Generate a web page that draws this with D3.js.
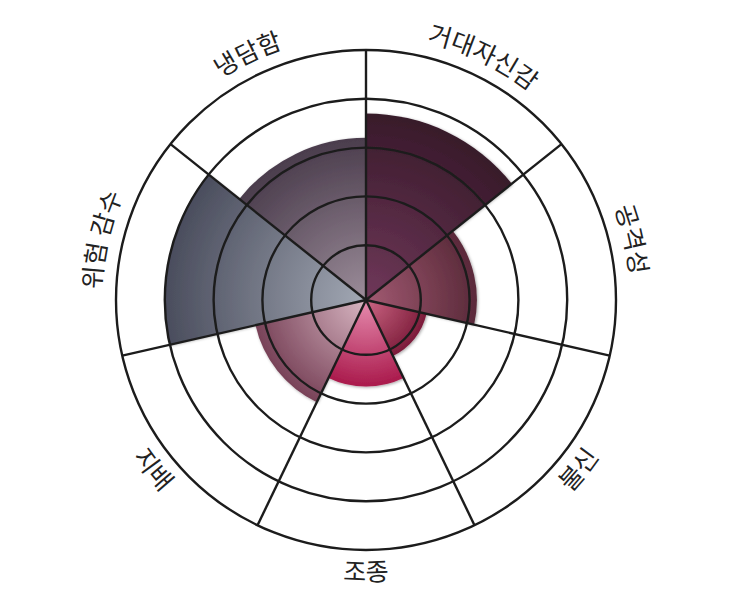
<!DOCTYPE html>
<html>
<head>
<meta charset="utf-8">
<script src="https://cdn.jsdelivr.net/npm/d3@7"></script>
<style>
  html, body { margin: 0; padding: 0; background: #fff; }
  svg { display: block; }
</style>
</head>
<body>
<svg id="chart" width="732" height="600"></svg>
<script>
// ---- data ----
const categories = ["거대자신감", "공격성", "불신", "조종", "지배", "위험 감수", "냉담함"];
const values = [3.7, 2.15, 1.15, 1.65, 2.2, 4.0, 3.2];
const ringTicks = [1, 2, 3, 4, 5];
const innerColors = ["#70385a", "#a25a72", "#cc6684", "#e68caf", "#d8b6c2", "#a2a8b4", "#9c8d9a"];
const outerColors = ["#381a2a", "#5a2a3a", "#7c1c3a", "#aa1a4c", "#784258", "#4a4d5d", "#4b3d4d"];

// ---- layout ----
const svg = d3.select("#chart");
const cx = 366, cy = 300;
const rScale = d3.scaleLinear().domain([0, 5]).range([6, 250]);
const angle = d3.scaleBand().domain(categories).range([0, 2 * Math.PI]).padding(0);
const g = svg.append("g").attr("transform", `translate(${cx},${cy})`);
const defs = svg.append("defs");

// drop shadow
const f = defs.append("filter").attr("id", "shadow")
  .attr("x", "-20%").attr("y", "-20%").attr("width", "140%").attr("height", "140%");
f.append("feDropShadow").attr("dx", 1).attr("dy", 1).attr("stdDeviation", 1.6)
  .attr("flood-color", "#000").attr("flood-opacity", 0.35);

// gradients
categories.forEach((c, i) => {
  const rg = defs.append("radialGradient").attr("id", "grad" + i)
    .attr("gradientUnits", "userSpaceOnUse")
    .attr("cx", 0).attr("cy", 0).attr("r", rScale(values[i]));
  rg.append("stop").attr("offset", "0%").attr("stop-color", innerColors[i]);
  rg.append("stop").attr("offset", "100%").attr("stop-color", outerColors[i]);
});

// bars
const arc = d3.arc()
  .innerRadius(0)
  .outerRadius(d => rScale(d.v))
  .startAngle(d => angle(d.c))
  .endAngle(d => angle(d.c) + angle.bandwidth());

g.append("g").attr("filter", "url(#shadow)")
  .selectAll("path")
  .data(categories.map((c, i) => ({ c, v: values[i], i })))
  .join("path")
  .attr("d", arc)
  .attr("fill", d => `url(#grad${d.i})`);

// grid rings
g.append("g").selectAll("circle")
  .data(ringTicks)
  .join("circle")
  .attr("r", d => rScale(d))
  .attr("fill", "none")
  .attr("stroke", "#1c1c1c")
  .attr("stroke-width", 2.4);

// radial lines
const outerR = rScale(5);
g.append("g").selectAll("line")
  .data(categories)
  .join("line")
  .attr("x1", 0).attr("y1", 0)
  .attr("x2", d => outerR * Math.sin(angle(d)))
  .attr("y2", d => -outerR * Math.cos(angle(d)))
  .attr("stroke", "#1c1c1c")
  .attr("stroke-width", 2.4);

// labels along arcs
function pt(r, a) { return [r * Math.sin(a), -r * Math.cos(a)]; }
categories.forEach((c, i) => {
  const a0 = angle(c), a1 = a0 + angle.bandwidth();
  const mid = (a0 + a1) / 2;
  const flip = mid > Math.PI / 2 && mid < 3 * Math.PI / 2;
  let d;
  if (!flip) {
    const R = 265;
    const p0 = pt(R, a0), p1 = pt(R, a1);
    d = `M${p0[0]},${p0[1]} A${R},${R} 0 0 1 ${p1[0]},${p1[1]}`;
  } else {
    const R = 281;
    const p0 = pt(R, a1), p1 = pt(R, a0);
    d = `M${p0[0]},${p0[1]} A${R},${R} 0 0 0 ${p1[0]},${p1[1]}`;
  }
  defs.append("path").attr("id", "lp" + i).attr("d", d);
  g.append("text")
    .attr("font-family", "'Noto Sans CJK KR', 'Noto Sans', sans-serif")
    .attr("font-size", 25)
    .attr("fill", "#222")
    .append("textPath")
    .attr("href", "#lp" + i)
    .attr("startOffset", "50%")
    .attr("text-anchor", "middle")
    .text(c);
});
</script>
</body>
</html>
